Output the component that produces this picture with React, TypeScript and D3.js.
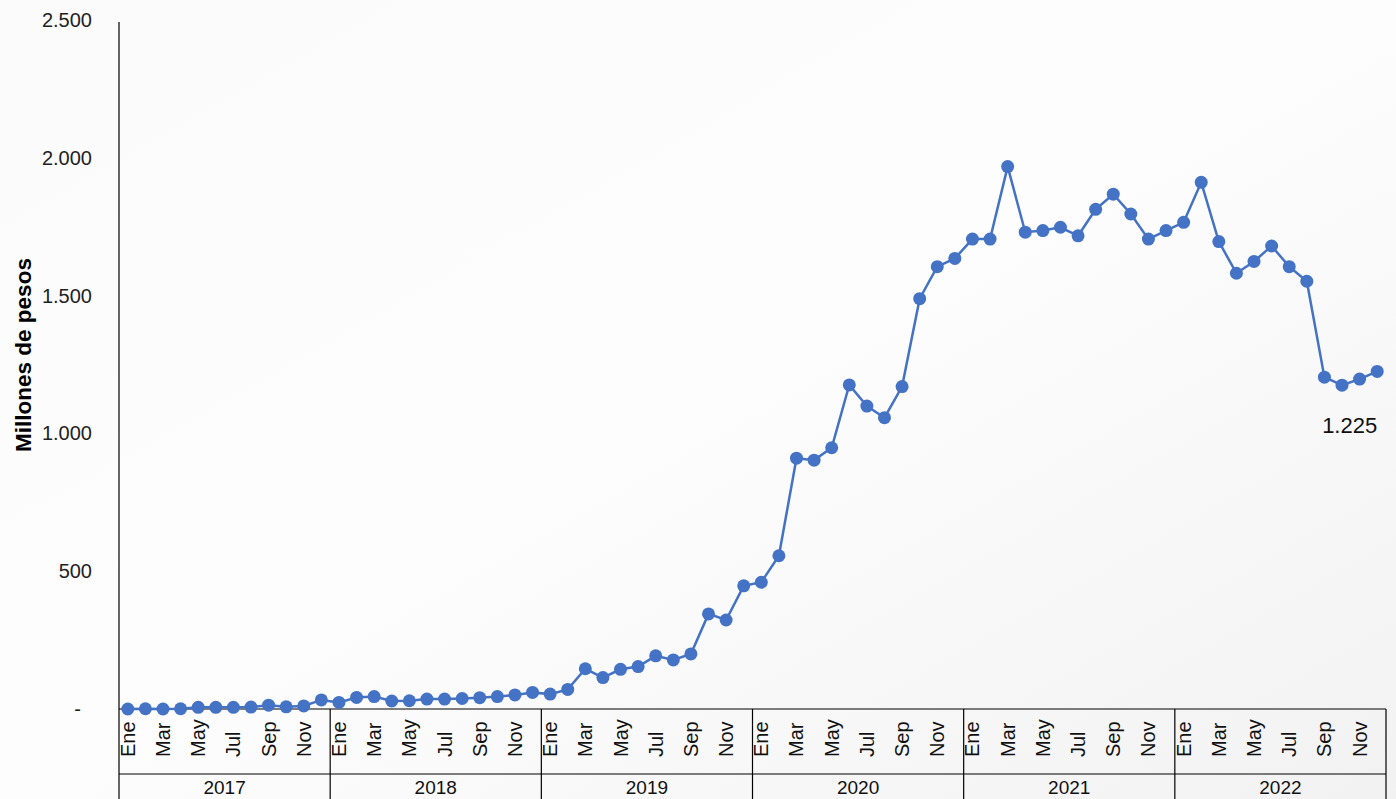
import React from "react";
import * as d3 from "d3";

const years = ["2017", "2018", "2019", "2020", "2021", "2022"];
const monthNames = ["Ene", "Feb", "Mar", "Abr", "May", "Jun", "Jul", "Ago", "Sep", "Oct", "Nov", "Dic"];
const values2017 = [0, 1, 0, 1, 6, 6, 6, 7, 14, 8, 11, 33];
const values2018 = [24, 42, 45, 29, 30, 36, 36, 38, 41, 45, 51, 60];
const values2019 = [54, 71, 146, 114, 144, 154, 193, 178, 200, 345, 323, 447];
const values2020 = [460, 556, 910, 903, 948, 1176, 1099, 1057, 1170, 1489, 1605, 1635];
const values2021 = [1705, 1705, 1968, 1730, 1736, 1748, 1717, 1813, 1868, 1796, 1705, 1736];
const values2022 = [1766, 1911, 1696, 1581, 1624, 1680, 1605, 1552, 1204, 1175, 1197, 1225];
const yTicks = [0, 500, 1000, 1500, 2000, 2500];
const lastLabel = "1.225";

const values = [...values2017, ...values2018, ...values2019, ...values2020, ...values2021, ...values2022];
const points = values.map((v, i) => ({ i, v, month: monthNames[i % 12], year: years[Math.floor(i / 12)] }));

const W = 1396;
const H = 799;
const left = 119;
const right = 1386;
const top = 20;
const bottom = 709;
const font = "'Helvetica Neue', Helvetica, Arial, 'Liberation Sans', sans-serif";

function fmt(v: number) {
  if (v === 0) return "-";
  return d3.format(",")(v).replace(/,/g, ".");
}

export default function App() {
  const x = d3.scaleBand<number>().domain(points.map((p) => p.i)).range([left, right]).padding(0);
  const y = d3.scaleLinear().domain([0, 2500]).range([bottom, top]);
  const bw = x.bandwidth();
  const cx = (i: number) => (x(i) as number) + bw / 2;
  const line = d3.line<{ i: number; v: number }>().x((d) => cx(d.i)).y((d) => y(d.v));
  const yearX = (k: number) => left + ((right - left) * k) / years.length;
  const last = points[points.length - 1];

  return (
    <svg width={W} height={H} style={{ position: "fixed", left: 0, top: 0, display: "block" }} fontFamily={font}>
      <defs>
        <linearGradient id="bg" x1="0" y1="0" x2="1" y2="1">
          <stop offset="0" stopColor="#fbfbfb" />
          <stop offset="0.5" stopColor="#fdfdfd" />
          <stop offset="1" stopColor="#f2f2f2" />
        </linearGradient>
      </defs>
      <rect x={0} y={0} width={W} height={H} fill="url(#bg)" />

      {/* Y axis title */}
      <text
        transform={`translate(31,355) rotate(-90)`}
        textAnchor="middle"
        fontSize={22.5}
        fontWeight="bold"
        fill="#000"
      >
        Millones de pesos
      </text>

      {/* Y ticks */}
      {yTicks.map((t) => (
        <text
          key={t}
          x={t === 0 ? 81 : 92}
          y={y(t)}
          dy="0.35em"
          textAnchor="end"
          fontSize={20}
          fill="#222"
        >
          {fmt(t)}
        </text>
      ))}

      {/* axes lines */}
      <line x1={left} x2={left} y1={top + 2} y2={H} stroke="#000" strokeWidth={1.2} />
      <line x1={left} x2={right} y1={bottom} y2={bottom} stroke="#000" strokeWidth={1.2} />
      <line x1={left} x2={right} y1={774} y2={774} stroke="#000" strokeWidth={1.2} />
      {years.map((yr, k) => (
        <line key={"b" + yr} x1={yearX(k + 1)} x2={yearX(k + 1)} y1={bottom} y2={H} stroke="#000" strokeWidth={1.2} />
      ))}

      {/* month labels */}
      {points
        .filter((p) => p.i % 2 === 0)
        .map((p) => (
          <text
            key={"m" + p.i}
            transform={`translate(${cx(p.i) + 7},757) rotate(-90)`}
            textAnchor="start"
            fontSize={20}
            fill="#111"
          >
            {p.month}
          </text>
        ))}

      {/* year labels */}
      {years.map((yr, k) => (
        <text key={yr} x={(yearX(k) + yearX(k + 1)) / 2} y={794} textAnchor="middle" fontSize={19} fill="#111">
          {yr}
        </text>
      ))}

      {/* series */}
      <path d={line(points) || ""} fill="none" stroke="#4472C4" strokeWidth={2.5} />
      {points.map((p) => (
        <circle key={"c" + p.i} cx={cx(p.i)} cy={y(p.v)} r={6.5} fill="#4472C4" />
      ))}

      <text x={cx(last.i)} y={433} textAnchor="end" fontSize={22} fill="#111">
        {lastLabel}
      </text>
    </svg>
  );
}
